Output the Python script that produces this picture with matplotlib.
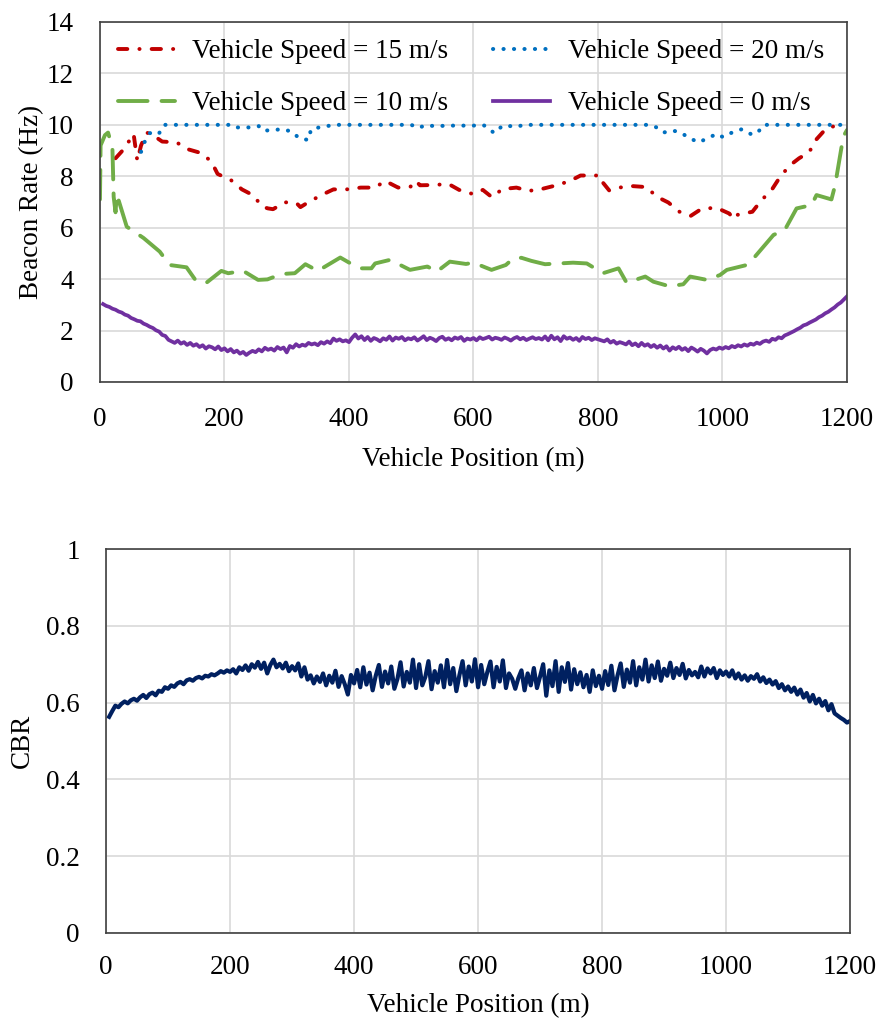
import numpy as np
import matplotlib.pyplot as plt
from matplotlib.lines import Line2D

plt.rcParams['font.family'] = ['Liberation Serif', 'DejaVu Serif']
FS = 19.5

# ---- beacon rate, vehicle speed = 20 m/s ----
v20_x = [66, 72, 80, 94, 103, 210, 216, 240, 255, 262, 278, 293, 308, 320, 335, 339,
         352, 365, 375, 500, 512, 522, 540, 560, 600, 615, 623, 633, 647, 660, 670, 680,
         880, 892, 905, 920, 933, 947, 962, 976, 991, 1001, 1016, 1031, 1045, 1055, 1066, 1200]
v20_y = [8.95, 9.35, 9.68, 9.63, 10.0, 10.0, 9.9, 9.9, 9.95, 9.77, 9.8, 9.83, 9.74, 9.48, 9.41, 9.83,
         9.9, 9.95, 10.0, 10.0, 9.88, 9.98, 9.95, 9.97, 9.97, 10.0, 9.9, 9.68, 9.97, 9.95, 9.92, 10.0,
         10.0, 9.93, 9.7, 9.78, 9.7, 9.48, 9.32, 9.48, 9.65, 9.52, 9.71, 9.83, 9.65, 9.65, 10.0, 10.0]

# ---- vehicle speed = 15 m/s ----
v15_x = [25, 40, 50, 54, 60, 66, 75, 85, 100, 123, 140, 163, 179, 189, 210, 228, 247, 260,
         270, 278, 297, 316, 322, 332, 354, 375, 396, 419, 442, 458, 479, 499, 507, 514,
         535, 560, 577, 599, 615, 630, 646, 669, 689, 712, 735, 755, 772, 803, 808, 818,
         834, 854, 878, 894, 913, 931, 949, 966, 990, 1011, 1018, 1024, 1048, 1063, 1079,
         1091, 1107, 1123, 1139, 1151, 1167, 1188]
v15_y = [8.7, 9.1, 9.5, 9.65, 8.6, 9.2, 9.7, 9.6, 9.35, 9.32, 9.06, 8.9, 8.57, 8.09, 7.86, 7.49,
         7.25, 6.82, 6.75, 6.72, 6.99, 6.95, 6.8, 6.95, 7.25, 7.49, 7.49, 7.56, 7.56, 7.82, 7.56,
         7.6, 7.83, 7.65, 7.66, 7.7, 7.47, 7.31, 7.47, 7.18, 7.5, 7.56, 7.43, 7.52, 7.66, 7.82,
         8.03, 8.03, 7.75, 7.45, 7.56, 7.62, 7.58, 7.21, 6.98, 6.62, 6.46, 6.73, 6.78, 6.55,
         6.33, 6.5, 6.62, 7.08, 7.47, 7.92, 8.4, 8.7, 8.93, 9.44, 9.87, 10.0]

# ---- vehicle speed = 10 m/s ----
v10_x = [0, 1, 8, 13, 20, 22, 25, 27, 43, 70, 96, 112, 139, 155, 171, 195, 206, 230, 254,
         269, 292, 313, 330, 350, 386, 404, 418, 436, 442, 466, 498, 526, 541, 562, 588,
         600, 629, 652, 664, 677, 693, 715, 760, 782, 808, 833, 846, 876, 889, 915, 937,
         948, 975, 996, 1007, 1039, 1052, 1082, 1100, 1119, 1143, 1151, 1175, 1181, 1194, 1200]
v10_y = [7.1, 9.2, 9.6, 9.7, 9.1, 7.2, 6.6, 7.3, 6.04, 5.6, 5.07, 4.55, 4.46, 3.91, 3.86, 4.32,
         4.23, 4.32, 3.97, 3.99, 4.2, 4.23, 4.58, 4.32, 4.84, 4.59, 4.42, 4.42, 4.61, 4.75,
         4.36, 4.49, 4.29, 4.68, 4.59, 4.64, 4.36, 4.55, 4.81, 4.83, 4.71, 4.58, 4.64, 4.61,
         4.23, 4.42, 3.86, 4.1, 3.9, 3.72, 3.8, 4.1, 3.97, 4.16, 4.36, 4.55, 4.87, 5.72, 5.91,
         6.75, 6.88, 7.27, 7.1, 7.66, 9.54, 9.8]

# ---- vehicle speed = 0 m/s, sampled every 5 m ----
pos5 = np.arange(5, 1201, 5)
v0_y = [3.03, 2.96, 2.92, 2.85, 2.81, 2.74, 2.70, 2.62, 2.58, 2.49, 2.44, 2.38, 2.36, 2.27, 2.22, 2.15, 2.10, 2.01, 1.96, 1.83,
        1.79, 1.64, 1.58, 1.52, 1.61, 1.49, 1.55, 1.44, 1.52, 1.41, 1.47, 1.36, 1.43, 1.30, 1.39, 1.35, 1.27, 1.38, 1.24, 1.31,
        1.19, 1.28, 1.15, 1.22, 1.10, 1.17, 1.05, 1.14, 1.21, 1.16, 1.27, 1.19, 1.33, 1.25, 1.30, 1.22, 1.36, 1.28, 1.34, 1.15,
        1.40, 1.33, 1.47, 1.38, 1.45, 1.41, 1.52, 1.46, 1.50, 1.43, 1.55, 1.49, 1.58, 1.51, 1.69, 1.60, 1.66, 1.58, 1.62, 1.55,
        1.72, 1.85, 1.69, 1.78, 1.63, 1.75, 1.60, 1.71, 1.66, 1.58, 1.70, 1.64, 1.77, 1.61, 1.73, 1.68, 1.75, 1.62, 1.70, 1.66,
        1.74, 1.61, 1.69, 1.78, 1.63, 1.72, 1.67, 1.59, 1.71, 1.76, 1.64, 1.70, 1.62, 1.73, 1.68, 1.75, 1.60, 1.69, 1.65, 1.71,
        1.62, 1.74, 1.67, 1.71, 1.76, 1.65, 1.72, 1.69, 1.64, 1.73, 1.68, 1.61, 1.70, 1.75, 1.66, 1.72, 1.63, 1.69, 1.74, 1.67,
        1.71, 1.65, 1.77, 1.62, 1.80, 1.66, 1.74, 1.59, 1.78, 1.68, 1.73, 1.64, 1.71, 1.60, 1.75, 1.67, 1.72, 1.63, 1.70, 1.66,
        1.62, 1.58, 1.66, 1.53, 1.60, 1.49, 1.55, 1.51, 1.46, 1.57, 1.43, 1.50, 1.39, 1.52, 1.41, 1.47, 1.36, 1.44, 1.33, 1.42,
        1.30, 1.39, 1.22, 1.35, 1.28, 1.37, 1.25, 1.32, 1.20, 1.34, 1.27, 1.18, 1.29, 1.22, 1.11, 1.24, 1.30, 1.26, 1.34, 1.29,
        1.36, 1.31, 1.40, 1.35, 1.43, 1.38, 1.46, 1.41, 1.49, 1.45, 1.53, 1.48, 1.57, 1.61, 1.56, 1.68, 1.64, 1.74, 1.70, 1.81,
        1.86, 1.92, 1.98, 2.05, 2.11, 2.20, 2.24, 2.31, 2.37, 2.43, 2.52, 2.58, 2.67, 2.73, 2.82, 2.90, 3.01, 3.09, 3.21, 3.33]

# ---- channel busy ratio, sampled every 5 m ----
cbr = [0.563, 0.578, 0.592, 0.588, 0.597, 0.603, 0.598, 0.606, 0.610, 0.605, 0.614, 0.620, 0.612, 0.622, 0.626, 0.619, 0.631, 0.628, 0.640, 0.636,
       0.645, 0.641, 0.650, 0.654, 0.648, 0.658, 0.661, 0.657, 0.664, 0.667, 0.663, 0.670, 0.668, 0.674, 0.671, 0.676, 0.682, 0.678, 0.684, 0.680,
       0.687, 0.676, 0.692, 0.685, 0.697, 0.683, 0.700, 0.691, 0.706, 0.688, 0.704, 0.676, 0.698, 0.712, 0.692, 0.701, 0.689, 0.704, 0.682, 0.695,
       0.684, 0.702, 0.668, 0.692, 0.660, 0.671, 0.650, 0.668, 0.654, 0.676, 0.645, 0.670, 0.652, 0.683, 0.641, 0.669, 0.648, 0.621, 0.672, 0.650,
       0.685, 0.640, 0.692, 0.647, 0.678, 0.632, 0.670, 0.698, 0.641, 0.681, 0.650, 0.694, 0.636, 0.662, 0.705, 0.642, 0.680, 0.652, 0.712, 0.638,
       0.700, 0.645, 0.667, 0.708, 0.635, 0.682, 0.652, 0.697, 0.640, 0.711, 0.648, 0.690, 0.630, 0.672, 0.708, 0.645, 0.694, 0.655, 0.713, 0.640,
       0.698, 0.648, 0.680, 0.707, 0.640, 0.693, 0.655, 0.710, 0.638, 0.676, 0.662, 0.636, 0.664, 0.684, 0.632, 0.676, 0.645, 0.690, 0.638, 0.668,
       0.700, 0.618, 0.684, 0.643, 0.708, 0.628, 0.692, 0.654, 0.703, 0.634, 0.687, 0.648, 0.679, 0.640, 0.672, 0.628, 0.684, 0.643, 0.670, 0.636,
       0.682, 0.646, 0.696, 0.632, 0.671, 0.702, 0.641, 0.686, 0.652, 0.708, 0.645, 0.692, 0.660, 0.712, 0.655, 0.697, 0.664, 0.707, 0.657, 0.688,
       0.670, 0.704, 0.664, 0.690, 0.672, 0.701, 0.663, 0.685, 0.671, 0.680, 0.666, 0.694, 0.668, 0.689, 0.676, 0.690, 0.664, 0.684, 0.672, 0.681,
       0.668, 0.684, 0.663, 0.676, 0.660, 0.671, 0.657, 0.669, 0.662, 0.674, 0.655, 0.666, 0.651, 0.660, 0.647, 0.656, 0.638, 0.648, 0.632, 0.642,
       0.628, 0.639, 0.621, 0.634, 0.613, 0.625, 0.603, 0.620, 0.598, 0.610, 0.592, 0.604, 0.580, 0.596, 0.572, 0.566, 0.560, 0.555, 0.548, 0.552]

x_ticks = [0, 200, 400, 600, 800, 1000, 1200]

fig = plt.figure(figsize=(8.8, 10.23), dpi=100)
ax1 = fig.add_axes([0.1136, 0.6266, 0.8489, 0.3519])
ax2 = fig.add_axes([0.1205, 0.0880, 0.8455, 0.3753])


def style_axes(ax, xpad, xlabelpad):
    ax.grid(True, color='#d9d9d9', lw=1.2)
    ax.set_axisbelow(True)
    for s in ax.spines.values():
        s.set_color('#404040')
        s.set_linewidth(1.2)
    ax.tick_params(length=0, labelsize=FS)
    ax.tick_params(axis='x', pad=xpad)
    ax.tick_params(axis='y', pad=19)
    ax.set_xlim(0, 1200)
    ax.set_xticks(x_ticks)
    ax.set_xlabel('Vehicle Position (m)', fontsize=FS, labelpad=xlabelpad)


# top panel: beacon rate
l15, = ax1.plot(v15_x, v15_y, color='#C00000', lw=2.8,
                dashes=(2.4, 3.1, 0.05, 3.1), dash_capstyle='round')
l20, = ax1.plot(v20_x, v20_y, color='#0070C0', lw=2.9,
                dashes=(0.05, 2.55), dash_capstyle='round')
l10, = ax1.plot(v10_x, v10_y, color='#70AD47', lw=2.8,
                dashes=(7.6, 3.6), dash_capstyle='round')
l0, = ax1.plot(pos5, v0_y, color='#7030A0', lw=2.7)
style_axes(ax1, 18, 11)
ax1.set_ylim(0, 14)
ax1.set_yticks(range(0, 15, 2))
ax1.set_ylabel('Beacon Rate (Hz)', fontsize=FS, labelpad=2)
ax1.legend([l15, l10, l20, l0],
           ['Vehicle Speed = 15 m/s', 'Vehicle Speed = 10 m/s',
            'Vehicle Speed = 20 m/s', 'Vehicle Speed = 0 m/s'],
           ncol=2, frameon=False, fontsize=FS, loc='upper left',
           bbox_to_anchor=(0.024, 0.952), borderpad=0, borderaxespad=0,
           handlelength=2.1, columnspacing=1.65, handletextpad=0.65,
           labelspacing=1.0)

# bottom panel: CBR
ax2.plot(pos5, cbr, color='#002060', lw=3.0)
style_axes(ax2, 16, 9)
ax2.set_ylim(0, 1)
ax2.set_yticks([0, 0.2, 0.4, 0.6, 0.8, 1])
ax2.set_yticklabels(['0', '0.2', '0.4', '0.6', '0.8', '1'])
ax2.set_ylabel('CBR', fontsize=FS, labelpad=8)

fig.savefig('out.png', dpi=100)
